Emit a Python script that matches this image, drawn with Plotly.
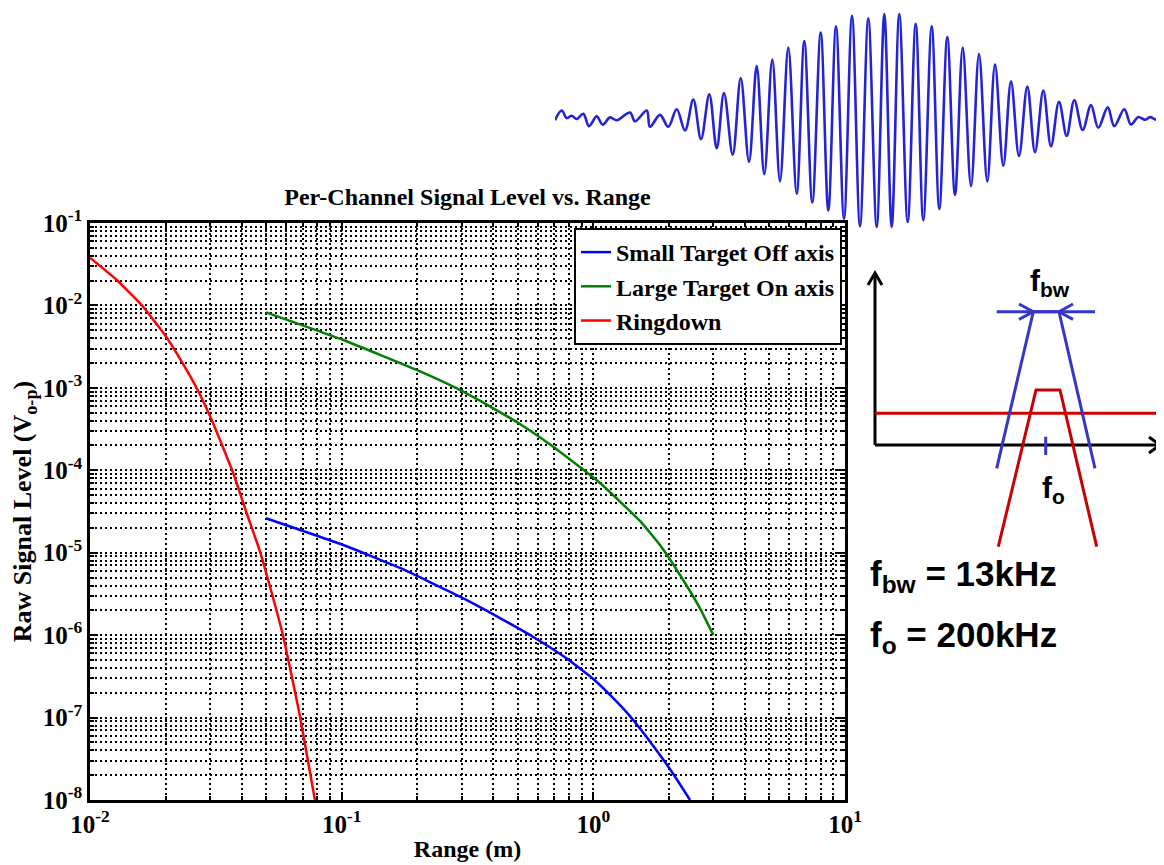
import plotly.graph_objects as go

# page is 1164x865; the html body adds an 8px margin, so the figure is drawn
# 8px smaller and all layout positions are given in page pixels.
PAGE_W, PAGE_H = 1164, 865
OFF = 8
W, H = PAGE_W - OFF, PAGE_H - OFF

# ---------------- data ----------------
small_x = [0.05, 0.1015, 0.1705, 0.2953, 0.4257, 0.5774, 0.7839, 1.0, 1.197, 1.398, 1.731, 2.078, 2.423]
small_y = [2.62e-5, 1.24e-5, 6.53e-6, 2.93e-6, 1.61e-6, 9.5e-7, 5.21e-7, 2.94e-7, 1.73e-7, 1.04e-7, 4.52e-8, 2.07e-8, 1.0e-8]

large_x = [0.05, 0.1015, 0.1986, 0.2855, 0.4005, 0.511, 0.693, 1.063, 1.532, 1.84, 2.21, 2.65, 3.0]
large_y = [8.25e-3, 3.81e-3, 1.65e-3, 9.9e-4, 5.65e-4, 3.64e-4, 1.93e-4, 7.0e-5, 2.43e-5, 1.24e-5, 5.37e-6, 2.13e-6, 1.0e-6]

ring_x = [0.01, 0.01277, 0.01604, 0.01986, 0.02314, 0.02655, 0.03046, 0.03711, 0.04195, 0.04738, 0.05, 0.0586, 0.0683, 0.0783]
ring_y = [0.0379, 0.02035, 0.01012, 4.38e-3, 2.08e-3, 9.88e-4, 4.07e-4, 9.19e-5, 3.01e-5, 1.03e-5, 5.83e-6, 9.6e-7, 1.03e-7, 1.0e-8]

series_names = ["Small Target Off axis", "Large Target On axis", "Ringdown"]

x_tick_vals = [0.01, 0.1, 1, 10]
x_tick_text = ["10<sup>-2</sup>", "10<sup>-1</sup>", "10<sup>0</sup>", "10<sup>1</sup>"]
y_tick_vals = [1e-8, 1e-7, 1e-6, 1e-5, 1e-4, 1e-3, 1e-2, 1e-1]
y_tick_text = ["10<sup>-8</sup>", "10<sup>-7</sup>", "10<sup>-6</sup>", "10<sup>-5</sup>",
               "10<sup>-4</sup>", "10<sup>-3</sup>", "10<sup>-2</sup>", "10<sup>-1</sup>"]

# echo pulse illustration (time, amplitude of successive extrema)
wave_t = [0, 6.7, 11.7, 16.7, 21.7, 28.3, 34, 41.7, 47.7, 55, 61.7, 75, 80, 91.7, 95, 105, 113.3,
          121.7, 130, 138.3, 146, 154.3, 161.7, 169, 177.7, 185.7, 194, 201.7, 209.3, 217.3, 225,
          233.3, 241.7, 249.3, 257.3, 265.7, 273.3, 281, 289, 297, 305, 313.3, 321.7, 329.3, 336.7,
          344.3, 352.7, 360.7, 368.3, 376.7, 384.3, 392.3, 400, 407.7, 416, 424, 432.3, 440, 448.3,
          456, 464, 472.3, 480, 488.3, 496, 504, 511.7, 519.3, 527.7, 536, 543.3, 552.7, 559.3,
          569.3, 576, 583.3, 590, 595, 601.7, 608.3]
wave_amp = [-0.3, 9.7, 2, 4.3, 1, 6.3, -6.3, 3.7, -4.7, 2.7, -0.3, 7.7, -1.3, 9.7, -7, 5.3, -7,
            11, -10.7, 21, -19.7, 26.3, -29, 27.7, -35.7, 43, -43, 55.3, -55.7, 62, -63, 74.3,
            -75.7, 81, -84.7, 89.7, -93, 96.3, -101.3, 107, -109, 104.3, -109.7, 108.7, -109.7,
            108.7, -104.7, 98.7, -103, 96.3, -91.3, 85.3, -77, 74.3, -68, 67.7, -63, 57, -47,
            39.7, -37, 34.3, -33, 30.3, -27, 18.7, -16.3, 20.3, -10.3, 15.3, -8, 13, -6.3, 11,
            -4.7, 3, 0.3, 3, 0.3, 4.3]

# bandpass sketch (local units)
sk_yaxis_x = [15, 15];   sk_yaxis_y = [185, 13]
sk_yarrow_x = [8, 15, 22]; sk_yarrow_y = [25, 13, 25]
sk_xaxis_x = [15, 300];  sk_xaxis_y = [185, 185]
sk_xarrow_x = [289, 300, 289]; sk_xarrow_y = [177, 185, 193]
sk_blue_x = [136.7, 173.3, 199, 235]; sk_blue_y = [208.3, 51.7, 51.7, 208.3]
sk_bw_x = [136.7, 235]; sk_bw_y = [51.7, 51.7]
sk_bwl_x = [159, 173.3, 159]; sk_bwl_y = [44, 51.7, 59.4]
sk_bwr_x = [213, 199, 213];  sk_bwr_y = [44, 51.7, 59.4]
sk_fo_x = [185.7, 185.7]; sk_fo_y = [176.7, 195]
sk_floor_x = [15, 304]; sk_floor_y = [153.3, 153.3]
sk_red_x = [138.3, 176, 200, 236.7]; sk_red_y = [286.7, 130, 130, 286.7]

# ---------------- figure ----------------
def px(x):
    return min(1.0, max(0.0, (x - OFF) / W))

def py(y):
    return min(1.0, max(0.0, 1 - (y - OFF) / H))

serif = "Liberation Serif, Times New Roman, serif"
narrow = "Liberation Sans Narrow, Arial Narrow, Liberation Sans, Arial, sans-serif"

fig = go.Figure()

colors = ["#0000ff", "#007f00", "#ff0000"]
for name, xs, ys, c in zip(series_names, [small_x, large_x, ring_x], [small_y, large_y, ring_y], colors):
    fig.add_trace(go.Scatter(x=xs, y=ys, mode="lines", name=name,
                             line=dict(color=c, width=2.5, shape="spline", smoothing=0.4),
                             xaxis="x", yaxis="y"))

# waveform
fig.add_trace(go.Scatter(x=wave_t, y=wave_amp, mode="lines", showlegend=False,
                         line=dict(color="#2323d8", width=2.6, shape="spline", smoothing=1.0),
                         xaxis="x2", yaxis="y2"))

BLUE = "#3636c8"
RED = "#c80000"
sketch = [
    (sk_yaxis_x, sk_yaxis_y, "black", 3), (sk_yarrow_x, sk_yarrow_y, "black", 3),
    (sk_xaxis_x, sk_xaxis_y, "black", 3), (sk_xarrow_x, sk_xarrow_y, "black", 3),
    (sk_floor_x, sk_floor_y, RED, 3), (sk_red_x, sk_red_y, RED, 3),
    (sk_blue_x, sk_blue_y, BLUE, 3), (sk_bw_x, sk_bw_y, BLUE, 3),
    (sk_bwl_x, sk_bwl_y, BLUE, 3), (sk_bwr_x, sk_bwr_y, BLUE, 3),
    (sk_fo_x, sk_fo_y, BLUE, 3),
]
for xs, ys, c, w in sketch:
    fig.add_trace(go.Scatter(x=xs, y=ys, mode="lines", showlegend=False,
                             line=dict(color=c, width=w), xaxis="x3", yaxis="y3"))

tickfont = dict(family=serif, size=25, color="black", weight="bold")
axis_common = dict(type="log", showline=True, linecolor="black", linewidth=2.5, mirror="ticks",
                   ticks="inside", ticklen=8, tickwidth=1.5, tickcolor="black",
                   showgrid=True, gridcolor="black", griddash="2px,3px", gridwidth=1.6,
                   zeroline=False, tickfont=tickfont, automargin=False,
                   minor=dict(dtick="D1", showgrid=True, gridcolor="black", griddash="2px,3px",
                              gridwidth=1.6, ticks="inside", ticklen=4, tickcolor="black"))

fig.update_layout(
    width=W, height=H,
    margin=dict(l=0, r=0, t=0, b=0, autoexpand=False),
    paper_bgcolor="white", plot_bgcolor="rgba(0,0,0,0)",
    showlegend=True,
    title=dict(text="Per-Channel Signal Level vs. Range", x=px(467.5), xanchor="center",
               y=py(197), yanchor="middle",
               font=dict(family=serif, size=24, color="black", weight="bold")),
    xaxis=dict(axis_common, domain=[px(90), px(845)], range=[-2, 1],
               tickvals=x_tick_vals, ticktext=x_tick_text,
               title=dict(text="Range (m)", standoff=4,
                          font=dict(family=serif, size=24, color="black", weight="bold")),
               anchor="y"),
    yaxis=dict(axis_common, domain=[py(800), py(223)], range=[-8, -1],
               tickvals=y_tick_vals, ticktext=y_tick_text,
               title=dict(text="Raw Signal Level (V<sub>o-p</sub>)", standoff=4,
                          font=dict(family=serif, size=26, color="black", weight="bold")),
               anchor="x"),
    xaxis2=dict(domain=[px(555), px(1164)], range=[0, 609], visible=False, anchor="y2"),
    yaxis2=dict(domain=[py(232), py(2)], range=[-115, 115], visible=False, anchor="x2"),
    xaxis3=dict(domain=[px(860), px(1164)], range=[0, 304], visible=False, anchor="y3"),
    yaxis3=dict(domain=[py(560), py(260)], range=[300, 0], visible=False, anchor="x3"),
    legend=dict(x=px(842), xanchor="right", y=py(228), yanchor="top",
                bgcolor="white", bordercolor="black", borderwidth=2,
                font=dict(family=serif, size=24, color="black", weight="bold"),
                tracegroupgap=0, itemwidth=30),
)

big = dict(family=narrow, size=30, color="black", weight="bold")
huge = dict(family=narrow, size=35, color="black", weight="bold")
fig.add_annotation(x=px(1050), y=py(282), xref="paper", yref="paper", text="f<sub>bw</sub>",
                   showarrow=False, xanchor="center", yanchor="middle", font=big)
fig.add_annotation(x=px(1053), y=py(489), xref="paper", yref="paper", text="f<sub>o</sub>",
                   showarrow=False, xanchor="center", yanchor="middle", font=big)
fig.add_annotation(x=px(868), y=py(576), xref="paper", yref="paper", text="f<sub>bw</sub> = 13kHz",
                   showarrow=False, xanchor="left", yanchor="middle", font=huge)
fig.add_annotation(x=px(868), y=py(637), xref="paper", yref="paper", text="f<sub>o</sub> = 200kHz",
                   showarrow=False, xanchor="left", yanchor="middle", font=huge)

fig.write_html("out.html")
